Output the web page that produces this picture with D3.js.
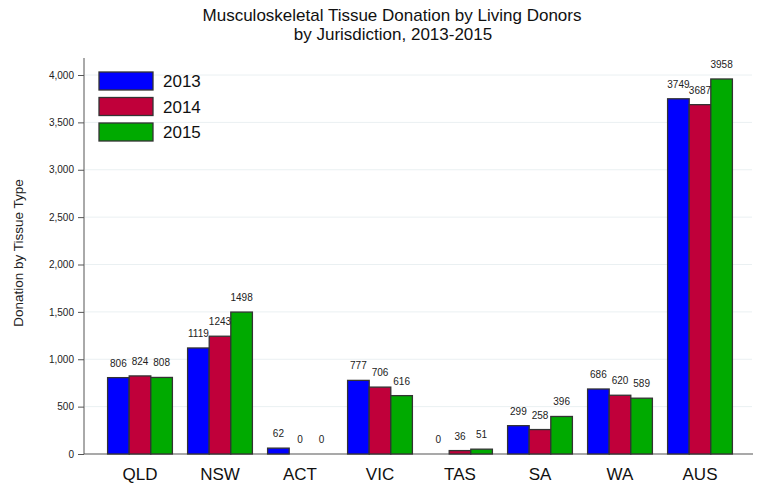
<!DOCTYPE html>
<html lang="en">
<head>
<meta charset="UTF-8">
<title>Musculoskeletal Tissue Donation</title>
<style>
  body { margin: 0; background: #fff; }
  svg { font-family: "Liberation Sans", Arial, sans-serif; }
</style>
</head>
<body>
<svg id="chart"></svg>
<script src="https://cdn.jsdelivr.net/npm/d3@7"></script>
<script>
const jurisdictions = ['QLD', 'NSW', 'ACT', 'VIC', 'TAS', 'SA', 'WA', 'AUS'];
const years = ['2013', '2014', '2015'];
const values2013 = [806, 1119, 62, 777, 0, 299, 686, 3749];
const values2014 = [824, 1243, 0, 706, 36, 258, 620, 3687];
const values2015 = [808, 1498, 0, 616, 51, 396, 589, 3958];
const yTicks = [0, 500, 1000, 1500, 2000, 2500, 3000, 3500, 4000];
const colors = ['#0000ff', '#c0003a', '#00aa00'];

const series = [values2013, values2014, values2015];

const W = 757, H = 485;
const svg = d3.select('#chart').attr('width', W).attr('height', H);

const x0 = d3.scaleBand()
    .domain(jurisdictions)
    .range([100, 740])
    .paddingInner(0.19)
    .paddingOuter(0.095);

const x1 = d3.scaleBand()
    .domain(years)
    .range([0, x0.bandwidth()]);

const y = d3.scaleLinear()
    .domain([0, 4000])
    .range([454, 75]);

// gridlines
svg.append('g')
    .selectAll('line')
    .data(yTicks.filter(d => d > 0))
    .enter()
    .append('line')
    .attr('x1', 85).attr('x2', 752)
    .attr('y1', d => y(d)).attr('y2', d => y(d))
    .attr('stroke', '#eaf0f2')
    .attr('stroke-width', 1);

// y axis
const yAxis = svg.append('g')
    .attr('transform', 'translate(84,0)')
    .call(d3.axisLeft(y).tickValues(yTicks).tickSize(6).tickPadding(4).tickFormat(d3.format(',')));
yAxis.select('.domain').attr('stroke', '#555').attr('d', `M0,${y(0)}V58`);
yAxis.selectAll('.tick line').attr('stroke', '#555');
yAxis.selectAll('.tick text').attr('font-size', 10).attr('fill', '#222')
    .style('font-family', '"Liberation Sans", Arial, sans-serif');

// x axis line
svg.append('line')
    .attr('x1', 84).attr('x2', 753)
    .attr('y1', y(0)).attr('y2', y(0))
    .attr('stroke', '#555').attr('stroke-width', 1.2);

// x labels
svg.append('g')
    .selectAll('text')
    .data(jurisdictions)
    .enter()
    .append('text')
    .attr('x', d => x0(d) + x0.bandwidth() / 2)
    .attr('y', 480)
    .attr('text-anchor', 'middle')
    .attr('font-size', 17)
    .attr('fill', '#111')
    .text(d => d);

// bars
const groups = svg.append('g')
    .selectAll('g')
    .data(jurisdictions)
    .enter()
    .append('g')
    .attr('transform', d => `translate(${x0(d)},0)`);

groups.selectAll('rect')
    .data((d, i) => years.map((yr, k) => ({ yr, k, v: series[k][i] })))
    .enter()
    .filter(d => d.v > 0)
    .append('rect')
    .attr('x', d => x1(d.yr))
    .attr('width', x1.bandwidth())
    .attr('y', d => y(d.v))
    .attr('height', d => y(0) - y(d.v))
    .attr('fill', d => colors[d.k])
    .attr('stroke', '#333')
    .attr('stroke-width', 1.3);

groups.selectAll('text')
    .data((d, i) => years.map((yr, k) => ({ yr, k, v: series[k][i] })))
    .enter()
    .append('text')
    .attr('x', d => x1(d.yr) + x1.bandwidth() / 2)
    .attr('y', d => y(d.v) - 11)
    .attr('text-anchor', 'middle')
    .attr('font-size', 10)
    .attr('fill', '#222')
    .text(d => d.v);

// legend
const legend = svg.append('g')
    .selectAll('g')
    .data(years)
    .enter()
    .append('g')
    .attr('transform', (d, i) => `translate(99,${72 + i * 25.5})`);

legend.append('rect')
    .attr('width', 54).attr('height', 18)
    .attr('fill', (d, i) => colors[i])
    .attr('stroke', '#333').attr('stroke-width', 1.3);

legend.append('text')
    .attr('x', 64).attr('y', 15)
    .attr('font-size', 17)
    .attr('fill', '#111')
    .text(d => d);

// titles
svg.append('text')
    .attr('x', 392).attr('y', 20.5)
    .attr('text-anchor', 'middle')
    .attr('font-size', 17)
    .attr('fill', '#111')
    .text('Musculoskeletal Tissue Donation by Living Donors');
svg.append('text')
    .attr('x', 393).attr('y', 40)
    .attr('text-anchor', 'middle')
    .attr('font-size', 17)
    .attr('fill', '#111')
    .text('by Jurisdiction, 2013-2015');

svg.append('text')
    .attr('transform', 'translate(23,253) rotate(-90)')
    .attr('text-anchor', 'middle')
    .attr('font-size', 13.5)
    .attr('fill', '#222')
    .text('Donation by Tissue Type');
</script>
</body>
</html>
